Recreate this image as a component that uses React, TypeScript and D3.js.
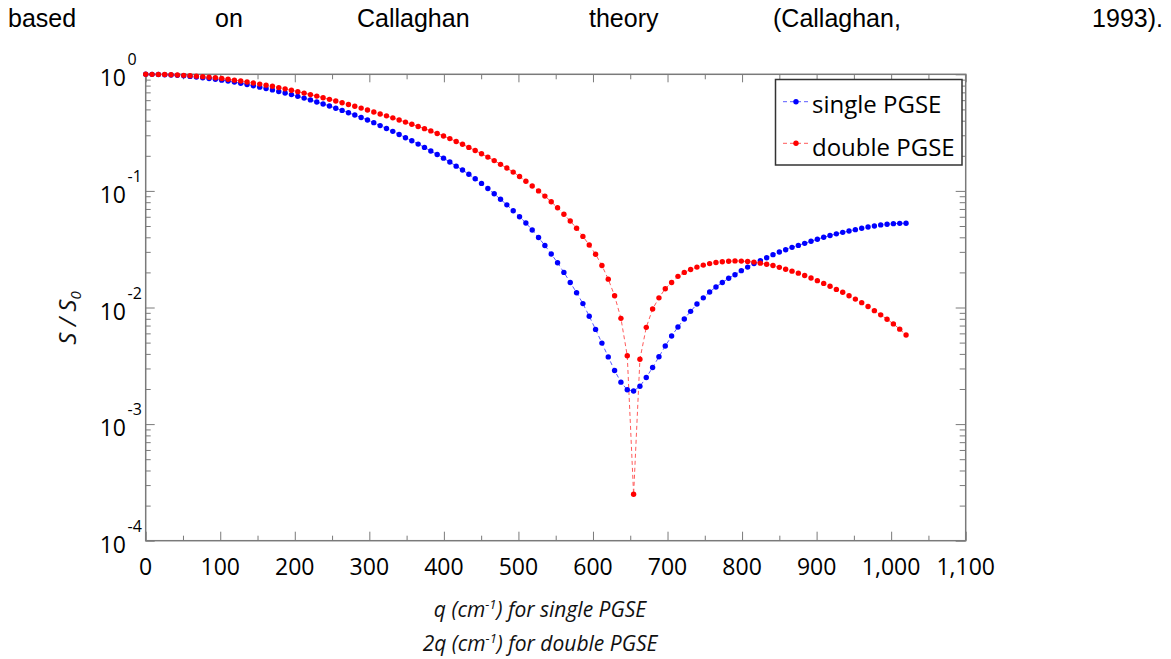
import React, { useEffect, useRef } from 'react';
import * as d3 from 'd3';

// q (cm^-1) sample positions
const Q_VALUES = [
  0, 8.5, 17, 25.5, 34, 42.5, 51, 59.5, 68, 76.5,
  85, 93.5, 102, 110.5, 119, 127.5, 136, 144.5, 153, 161.5,
  170, 178.5, 187, 195.5, 204, 212.5, 221, 229.5, 238, 246.5,
  255, 263.5, 272, 280.5, 289, 297.5, 306, 314.5, 323, 331.5,
  340, 348.5, 357, 365.5, 374, 382.5, 391, 399.5, 408, 416.5,
  425, 433.5, 442, 450.5, 459, 467.5, 476, 484.5, 493, 501.5,
  510, 518.5, 527, 535.5, 544, 552.5, 561, 569.5, 578, 586.5,
  595, 603.5, 612, 620.5, 629, 637.5, 646, 654.5, 663, 671.5,
  680, 688.5, 697, 705.5, 714, 722.5, 731, 739.5, 748, 756.5,
  765, 773.5, 782, 790.5, 799, 807.5, 816, 824.5, 833, 841.5,
  850, 858.5, 867, 875.5, 884, 892.5, 901, 909.5, 918, 926.5,
  935, 943.5, 952, 960.5, 969, 977.5, 986, 994.5, 1003, 1011.5,
  1020
];

// S/S0, single PGSE (blue)
const SINGLE_PGSE = [
  1.000, 0.999, 0.995, 0.991, 0.986, 0.979, 0.971, 0.959, 0.948, 0.935,
  0.920, 0.906, 0.891, 0.875, 0.857, 0.838, 0.818, 0.798, 0.776, 0.755,
  0.735, 0.713, 0.692, 0.670, 0.647, 0.625, 0.603, 0.579, 0.557, 0.535,
  0.512, 0.490, 0.468, 0.447, 0.426, 0.406, 0.385, 0.363, 0.343, 0.324,
  0.305, 0.286, 0.269, 0.252, 0.236, 0.220, 0.205, 0.191, 0.177, 0.163,
  0.151, 0.139, 0.127, 0.116, 0.105, 0.0944, 0.0847, 0.0759, 0.0676, 0.0600,
  0.0531, 0.0462, 0.0398, 0.0340, 0.0288, 0.0242, 0.0200, 0.0164, 0.0134, 0.0108,
  0.00841, 0.00649, 0.00495, 0.00377, 0.00288, 0.00229, 0.00197, 0.00192, 0.00211, 0.00251,
  0.00306, 0.00378, 0.00467, 0.00569, 0.00681, 0.00798, 0.00927, 0.0107, 0.0121, 0.0136,
  0.0150, 0.0164, 0.0178, 0.0191, 0.0207, 0.0222, 0.0238, 0.0252, 0.0267, 0.0284,
  0.0299, 0.0313, 0.0328, 0.0341, 0.0355, 0.0370, 0.0385, 0.0400, 0.0414, 0.0428,
  0.0441, 0.0453, 0.0465, 0.0478, 0.0490, 0.0500, 0.0511, 0.0518, 0.0524, 0.0527,
  0.0528
];

// S/S0, double PGSE (red), plotted against 2q
const DOUBLE_PGSE = [
  1.000, 0.999, 0.998, 0.995, 0.991, 0.986, 0.979, 0.973, 0.964, 0.955,
  0.944, 0.933, 0.920, 0.906, 0.891, 0.875, 0.859, 0.841, 0.824, 0.807,
  0.789, 0.769, 0.750, 0.730, 0.710, 0.690, 0.670, 0.650, 0.629, 0.610,
  0.590, 0.570, 0.551, 0.532, 0.513, 0.494, 0.475, 0.457, 0.440, 0.423,
  0.406, 0.389, 0.373, 0.357, 0.342, 0.327, 0.311, 0.296, 0.281, 0.265,
  0.251, 0.236, 0.222, 0.208, 0.195, 0.182, 0.169, 0.157, 0.145, 0.133,
  0.121, 0.110, 0.100, 0.0902, 0.0807, 0.0716, 0.0631, 0.0552, 0.0478, 0.0407,
  0.0344, 0.0286, 0.0229, 0.0175, 0.0126, 0.00807, 0.00386, 0.00025, 0.00360, 0.00676,
  0.00970, 0.0121, 0.0145, 0.0164, 0.0185, 0.0200, 0.0212, 0.0222, 0.0231, 0.0238,
  0.0243, 0.0247, 0.0249, 0.0251, 0.0250, 0.0248, 0.0245, 0.0240, 0.0235, 0.0229,
  0.0221, 0.0213, 0.0205, 0.0197, 0.0188, 0.0179, 0.0170, 0.0161, 0.0152, 0.0143,
  0.0135, 0.0126, 0.0118, 0.0110, 0.0102, 0.00940, 0.00865, 0.00794, 0.00723, 0.00652,
  0.00581
];

const X_MAJOR = [0, 100, 200, 300, 400, 500, 600, 700, 800, 900, 1000, 1100];
const Y_DECADES = [1, 1e-1, 1e-2, 1e-3, 1e-4];
const Y_EXPONENTS = ['0', '-1', '-2', '-3', '-4'];

const HEADER_WORDS = ['based', 'on', 'Callaghan', 'theory', '(Callaghan,', '1993).'];
const HEADER_X = [8, 215, 357, 589, 773, 1163];

const SERIES = [
  { name: 'single PGSE', values: SINGLE_PGSE, color: '#0000ff', line: '#5a5aff' },
  { name: 'double PGSE', values: DOUBLE_PGSE, color: '#ff0000', line: '#ff5a5a' }
];

const W = 1171;
const H = 659;
const FONT = '"Open Sans", "Noto Sans", sans-serif';

export default function App() {
  const svgRef = useRef<SVGSVGElement>(null);

  useEffect(() => {
    const svg = d3.select(svgRef.current);
    svg.selectAll('*').remove();

    const left = 145.7, right = 965.7, top = 74.3, bottom = 540.7;
    const x = d3.scaleLinear().domain([0, 1100]).range([left, right]);
    const y = d3.scaleLog().domain([1e-4, 1]).range([bottom, top]);

    // header line of the surrounding paragraph
    const header = svg.append('g')
      .style('font-family', '"Liberation Sans", Arial, sans-serif')
      .style('font-size', '25px')
      .attr('fill', '#000');
    HEADER_WORDS.forEach((w, i) => {
      header.append('text')
        .attr('x', HEADER_X[i])
        .attr('y', 27)
        .attr('text-anchor', i === HEADER_WORDS.length - 1 ? 'end' : 'start')
        .text(w);
    });

    // frame
    svg.append('rect')
      .attr('x', left).attr('y', top)
      .attr('width', right - left).attr('height', bottom - top)
      .attr('fill', 'none')
      .attr('stroke', '#7a7a7a')
      .attr('stroke-width', 1.5);

    const minorX = d3.range(50, 1100, 100);
    const minorY = y.ticks().filter(v => !Y_DECADES.some(d => Math.abs(d - v) < 1e-12));

    const tickAxis = (g, axis) => {
      g.call(axis);
      g.select('.domain').remove();
      g.selectAll('line').attr('stroke', '#7a7a7a').attr('stroke-width', 1);
      g.selectAll('text').remove();
    };

    // bottom + top ticks
    svg.append('g').attr('transform', `translate(0,${bottom})`)
      .call(g => tickAxis(g, d3.axisBottom(x).tickValues(X_MAJOR).tickSize(-9)));
    svg.append('g').attr('transform', `translate(0,${bottom})`)
      .call(g => tickAxis(g, d3.axisBottom(x).tickValues(minorX).tickSize(-5)));
    svg.append('g').attr('transform', `translate(0,${top})`)
      .call(g => tickAxis(g, d3.axisTop(x).tickValues(X_MAJOR).tickSize(-8)));
    svg.append('g').attr('transform', `translate(0,${top})`)
      .call(g => tickAxis(g, d3.axisTop(x).tickValues(minorX).tickSize(-5)));

    // left + right ticks
    svg.append('g').attr('transform', `translate(${left},0)`)
      .call(g => tickAxis(g, d3.axisLeft(y).tickValues(Y_DECADES).tickSize(-9)));
    svg.append('g').attr('transform', `translate(${left},0)`)
      .call(g => tickAxis(g, d3.axisLeft(y).tickValues(minorY).tickSize(-5)));
    svg.append('g').attr('transform', `translate(${right},0)`)
      .call(g => tickAxis(g, d3.axisRight(y).tickValues(Y_DECADES).tickSize(-10)));
    svg.append('g').attr('transform', `translate(${right},0)`)
      .call(g => tickAxis(g, d3.axisRight(y).tickValues(minorY).tickSize(-6)));

    // x tick labels
    const fmt = d3.format(',');
    svg.append('g')
      .style('font-family', FONT).style('font-size', '23px')
      .selectAll('text')
      .data(X_MAJOR)
      .join('text')
        .attr('x', d => x(d))
        .attr('y', 575)
        .attr('text-anchor', 'middle')
        .attr('fill', '#000')
        .text(d => fmt(d));

    // y tick labels 10^k
    const yl = svg.append('g').style('font-family', FONT).attr('fill', '#000');
    Y_DECADES.forEach((d, i) => {
      yl.append('text')
        .attr('x', 126).attr('y', y(d) + 12)
        .attr('text-anchor', 'end')
        .style('font-size', '23px')
        .text('10');
      yl.append('text')
        .attr('x', 127.5).attr('y', y(d) - 9)
        .style('font-size', '16px')
        .text(Y_EXPONENTS[i]);
    });

    // y title
    const yt = svg.append('text')
      .attr('transform', 'translate(76,318) rotate(-90)')
      .attr('text-anchor', 'middle')
      .style('font-family', FONT).style('font-size', '24px').style('font-style', 'italic')
      .attr('fill', '#111');
    yt.append('tspan').text('S / S');
    yt.append('tspan').attr('dy', 5).style('font-size', '15px').text('0');

    // x title (two lines)
    const xTitle = [
      ['q (cm', '-1', ') for single PGSE', 617],
      ['2q (cm', '-1', ') for double PGSE', 651]
    ];
    xTitle.forEach(([a, sup, b, by]) => {
      const t = svg.append('text')
        .attr('x', 540).attr('y', by)
        .attr('text-anchor', 'middle')
        .style('font-family', FONT).style('font-size', '21px').style('font-style', 'italic')
        .attr('fill', '#111');
      t.append('tspan').text(a);
      t.append('tspan').attr('dy', -8).style('font-size', '13px').text(sup);
      t.append('tspan').attr('dy', 8).text(b);
    });

    // series
    const line = d3.line<number>()
      .x((_, i) => x(Q_VALUES[i]))
      .y(v => y(v));

    SERIES.forEach(s => {
      svg.append('path')
        .datum(s.values)
        .attr('d', line)
        .attr('fill', 'none')
        .attr('stroke', s.line)
        .attr('stroke-width', 1)
        .attr('stroke-dasharray', '4,3');
    });
    SERIES.forEach(s => {
      svg.append('g')
        .selectAll('circle')
        .data(s.values)
        .join('circle')
          .attr('cx', (_, i) => x(Q_VALUES[i]))
          .attr('cy', d => y(d))
          .attr('r', 2.7)
          .attr('fill', s.color);
    });

    // legend
    const lg = svg.append('g');
    lg.append('rect')
      .attr('x', 775.5).attr('y', 79.5)
      .attr('width', 186.5).attr('height', 85.5)
      .attr('fill', '#fff')
      .attr('stroke', '#333')
      .attr('stroke-width', 1.5);
    const rowY = [101.7, 143.3];
    const rowBase = [113, 155.5];
    SERIES.forEach((s, i) => {
      lg.append('line')
        .attr('x1', 783).attr('x2', 810)
        .attr('y1', rowY[i]).attr('y2', rowY[i])
        .attr('stroke', s.line)
        .attr('stroke-dasharray', '4,3');
      lg.append('circle')
        .attr('cx', 796).attr('cy', rowY[i]).attr('r', 2.7)
        .attr('fill', s.color);
      lg.append('text')
        .attr('x', 812).attr('y', rowBase[i])
        .style('font-family', FONT).style('font-size', '24px')
        .attr('fill', '#000')
        .text(s.name);
    });
  }, []);

  return (
    <div style={{ position: 'fixed', left: 0, top: 0, width: W, height: H, background: '#fff' }}>
      <svg ref={svgRef} width={W} height={H} />
    </div>
  );
}
